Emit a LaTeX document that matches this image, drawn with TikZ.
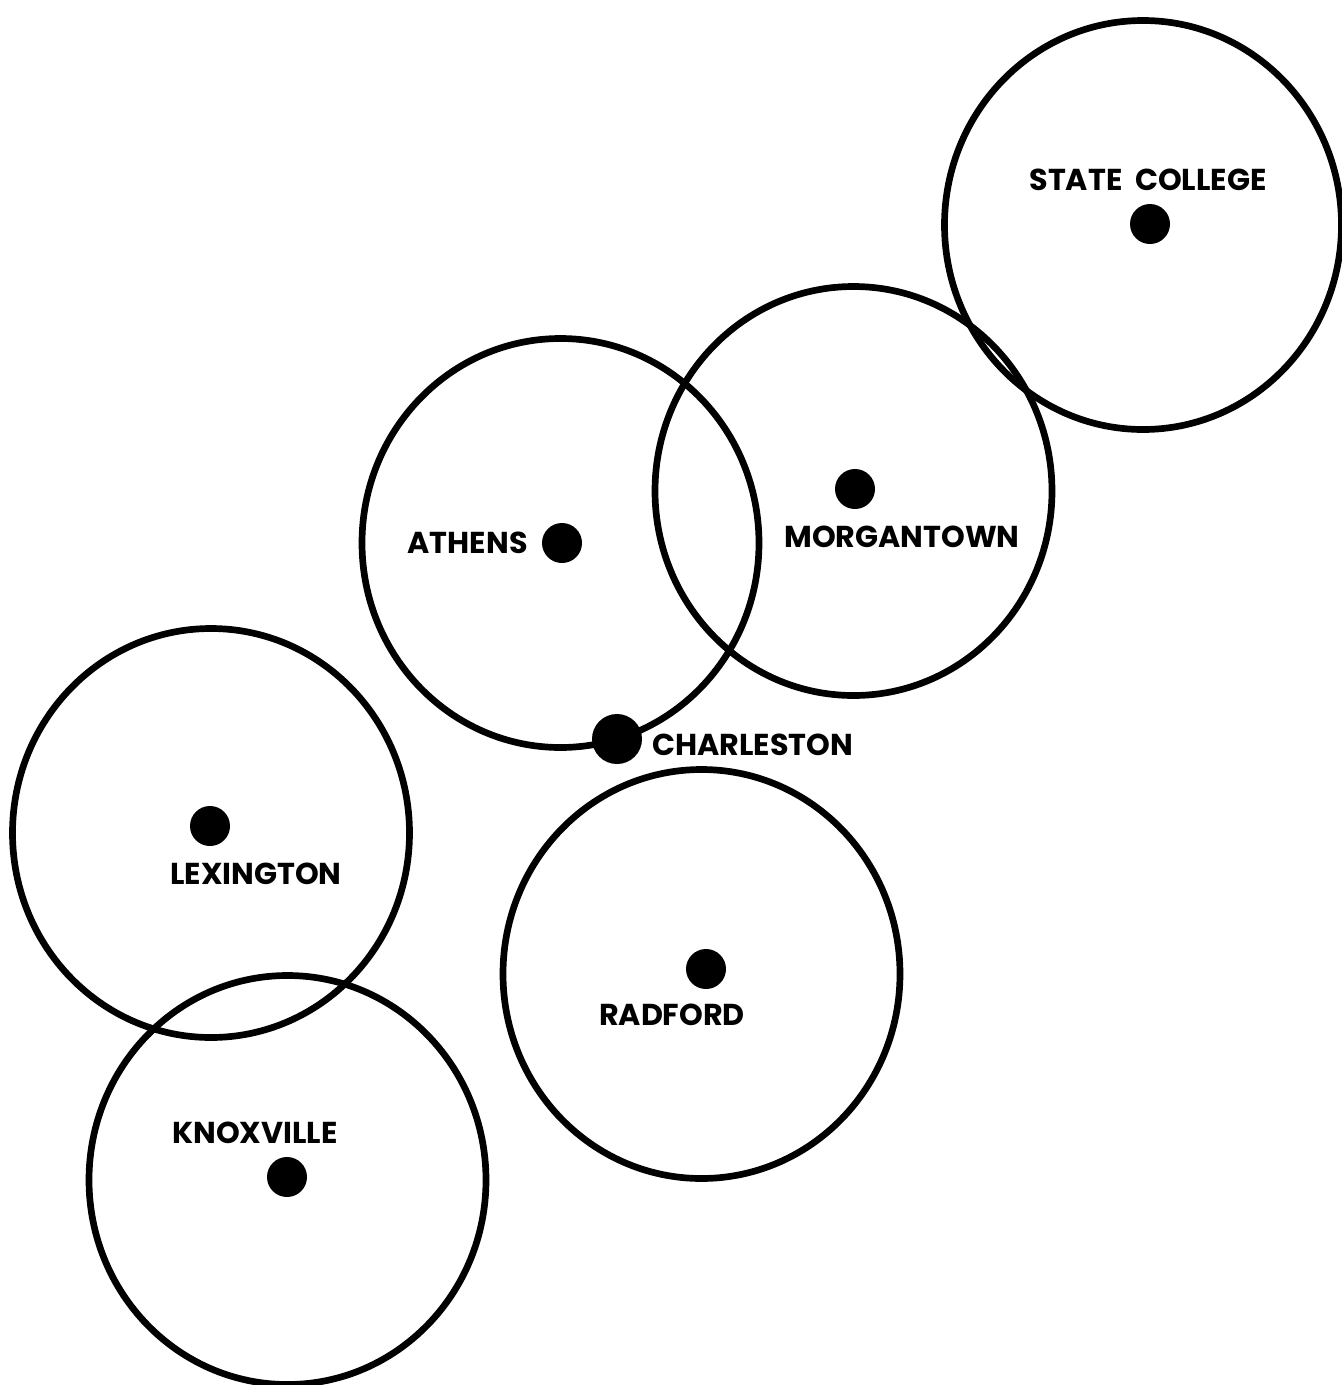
\documentclass[tikz,border=0pt]{standalone}
\usepackage{fontspec}
\newfontfamily\mapfont{Poppins}
\usepackage{tikz}
\usetikzlibrary{positioning,shapes.geometric}

\begin{document}
\begin{tikzpicture}[x=1cm, y=1cm, node distance=0.15cm,
    zone/.style={ellipse, draw, line width=1.9pt, minimum width=3.97cm, minimum height=4.09cm, inner sep=0pt},
    town/.style={circle, fill, minimum size=0.4cm, inner sep=0pt},
    cityname/.style={font=\mapfont\bfseries\fontsize{8.6}{10}\selectfont, inner sep=0pt}]
    \useasboundingbox (0,0) rectangle (13.42,-13.85);

    % Circles {sc, mg, at, lx, rd, kx}
    \node [zone]                (sc)  at (11.43,-2.25)   {};
    \node [zone]                (mg)  at (8.535,-4.91)   {};
    \node [zone]                (at)  at (5.605,-5.43)   {};
    \node [zone]                (lx)  at (2.11,-8.33)    {};
    \node [zone]                (rd)  at (7.015,-9.74)   {};
    \node [zone]                (kx)  at (2.875,-11.80)  {};

    % Towns
    \node [town]                (scd) at (11.50,-2.24)   {};
    \node [town]                (mgd) at (8.55,-4.89)    {};
    \node [town]                (atd) at (5.62,-5.43)    {};
    \node [town, minimum size=0.5cm] (chd) at (6.17,-7.39) {};
    \node [town]                (lxd) at (2.10,-8.26)    {};
    \node [town]                (rdd) at (7.06,-9.69)    {};
    \node [town]                (kxd) at (2.87,-11.77)   {};

    % Names
    \node [cityname]  (scn) [above=0.12cm of scd, xshift=-0.02cm]  {STATE\ \ COLLEGE};
    \node [cityname]  (mgn) [below=0.16cm of mgd, xshift=0.47cm]   {MORGANTOWN};
    \node [cityname]  (atn) [left=0.13cm of atd]                   {ATHENS};
    \node [cityname]  (chn) [right=0.09cm of chd, yshift=-0.06cm]  {CHARLESTON};
    \node [cityname]  (lxn) [below=0.16cm of lxd, xshift=0.46cm]   {LEXINGTON};
    \node [cityname]  (rdn) [below=0.14cm of rdd, xshift=-0.34cm]  {RADFORD};
    \node [cityname]  (kxn) [above=0.12cm of kxd, xshift=-0.32cm]  {KNOXVILLE};

\end{tikzpicture}
\end{document}
